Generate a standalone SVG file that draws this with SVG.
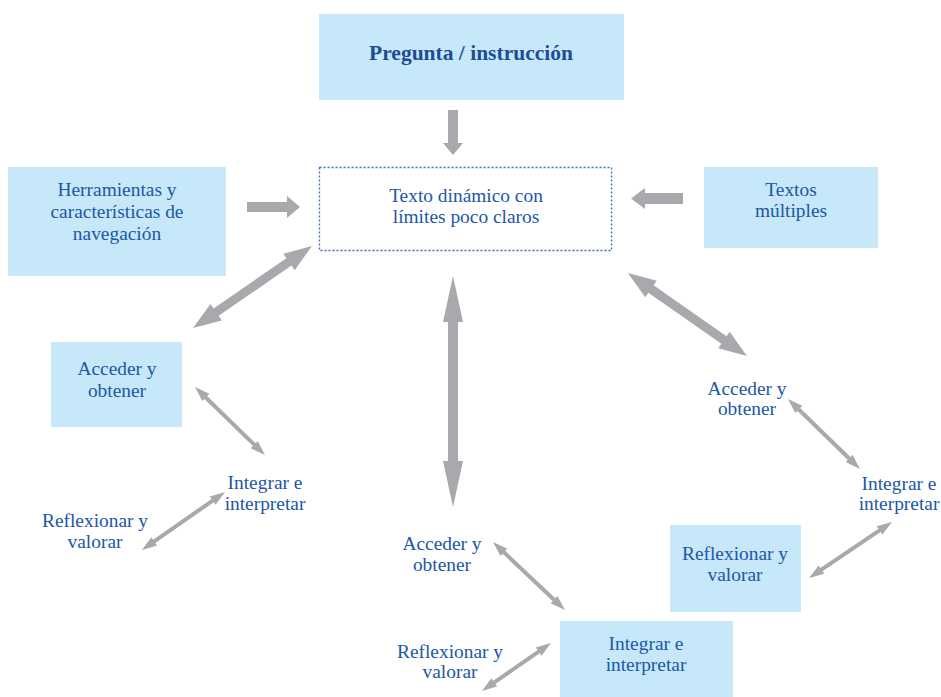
<svg xmlns="http://www.w3.org/2000/svg" width="941" height="697" viewBox="0 0 941 697">
<style>
.box{fill:#c6e8f8;}
.dot{fill:none;stroke:#3d6fbf;stroke-width:1.3;stroke-dasharray:2,2;}
.t{font-family:"Liberation Serif","Times New Roman",serif;font-size:19.4px;fill:#2157a6;text-anchor:middle;}
.b{font-weight:bold;font-size:21.5px;fill:#1d4d96;}
.arr{fill:#a8a9ac;}
</style>
<rect width="941" height="697" fill="#ffffff"/>
<g id="pregunta">
<rect class="box" x="319" y="14" width="305" height="86"/>
<text class="t b" x="471" y="60">Pregunta / instrucción</text>
</g>
<g id="texto-dinamico">
<rect class="dot" x="319.5" y="167.5" width="292" height="83"/>
<text class="t" x="466" y="202">Texto dinámico con</text>
<text class="t" x="466" y="223">límites poco claros</text>
</g>
<g id="herramientas">
<rect class="box" x="8" y="167" width="218" height="109"/>
<text class="t" x="117" y="196">Herramientas y</text>
<text class="t" x="117" y="218">características de</text>
<text class="t" x="117" y="240">navegación</text>
</g>
<g id="textos-multiples">
<rect class="box" x="704" y="167" width="174" height="81"/>
<text class="t" x="791" y="196">Textos</text>
<text class="t" x="791" y="217">múltiples</text>
</g>
<g id="acceder-izq">
<rect class="box" x="51" y="342" width="131" height="85"/>
<text class="t" x="117" y="375">Acceder y</text>
<text class="t" x="117" y="397">obtener</text>
</g>
<g id="integrar-izq">
<text class="t" x="265" y="489">Integrar e</text>
<text class="t" x="265" y="510">interpretar</text>
</g>
<g id="reflexionar-izq">
<text class="t" x="95" y="527">Reflexionar y</text>
<text class="t" x="95" y="548">valorar</text>
</g>
<g id="acceder-centro">
<text class="t" x="442" y="550">Acceder y</text>
<text class="t" x="442" y="571">obtener</text>
</g>
<g id="reflexionar-centro">
<text class="t" x="450" y="658">Reflexionar y</text>
<text class="t" x="450" y="678">valorar</text>
</g>
<g id="integrar-centro">
<rect class="box" x="560" y="621" width="173" height="76"/>
<text class="t" x="646" y="650">Integrar e</text>
<text class="t" x="646" y="671">interpretar</text>
</g>
<g id="acceder-der">
<text class="t" x="747" y="395">Acceder y</text>
<text class="t" x="747" y="415">obtener</text>
</g>
<g id="integrar-der">
<text class="t" x="899" y="490">Integrar e</text>
<text class="t" x="899" y="510">interpretar</text>
</g>
<g id="reflexionar-der">
<rect class="box" x="670" y="525" width="131" height="87"/>
<text class="t" x="735" y="560">Reflexionar y</text>
<text class="t" x="735" y="581">valorar</text>
</g>
<g id="connectors" class="arr">
<polygon points="448,110 458,110 458,143 463,143 453,155 443,143 448,143"/>
<polygon points="247,202 287,202 287,196 300,207 287,218 287,212 247,212"/>
<polygon points="683,193 645,193 645,188 631,198.5 645,209 645,204 683,204"/>
<path transform="translate(453,276) rotate(90)" d="M0,0 L46,-10 L46,-5 L185,-5 L185,-10 L231,0 L185,10 L185,5 L46,5 L46,10 Z"/>
<path transform="translate(312,246) rotate(145.4)" d="M0,0 L28,-10 L28,-4.5 L116.5,-4.5 L116.5,-10 L144.5,0 L116.5,10 L116.5,4.5 L28,4.5 L28,10 Z"/>
<path transform="translate(628,273) rotate(34.9)" d="M0,0 L28,-10 L28,-4.5 L117,-4.5 L117,-10 L145,0 L117,10 L117,4.5 L28,4.5 L28,10 Z"/>
<path transform="translate(195,387) rotate(44.2)" d="M0,0 L15,-5 L15,-2 L82.6,-2 L82.6,-5 L97.6,0 L82.6,5 L82.6,2 L15,2 L15,5 Z"/>
<path transform="translate(225,492) rotate(145.1)" d="M0,0 L15,-5 L15,-2 L86.3,-2 L86.3,-5 L101.3,0 L86.3,5 L86.3,2 L15,2 L15,5 Z"/>
<path transform="translate(493,542) rotate(43.4)" d="M0,0 L15,-5 L15,-2 L84,-2 L84,-5 L99,0 L84,5 L84,2 L15,2 L15,5 Z"/>
<path transform="translate(551,643) rotate(145.2)" d="M0,0 L15,-5 L15,-2 L69.1,-2 L69.1,-5 L84.1,0 L69.1,5 L69.1,2 L15,2 L15,5 Z"/>
<path transform="translate(788,399) rotate(44.2)" d="M0,0 L15,-5 L15,-2 L85.4,-2 L85.4,-5 L100.4,0 L85.4,5 L85.4,2 L15,2 L15,5 Z"/>
<path transform="translate(892,522) rotate(146)" d="M0,0 L15,-5 L15,-2 L85.1,-2 L85.1,-5 L100.1,0 L85.1,5 L85.1,2 L15,2 L15,5 Z"/>
</g>
</svg>
